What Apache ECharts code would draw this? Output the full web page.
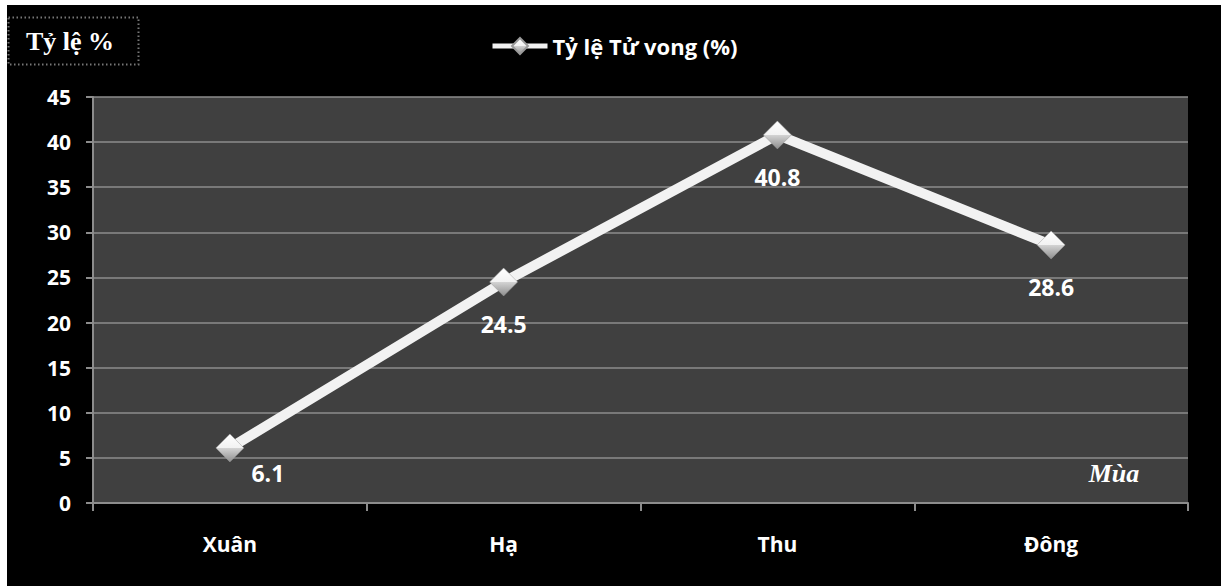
<!DOCTYPE html>
<html>
<head>
<meta charset="utf-8">
<script src="https://cdn.jsdelivr.net/npm/echarts@6/dist/echarts.min.js"></script>
<style>
html,body{margin:0;padding:0;background:#ffffff;}
#chart{width:1221px;height:586px;}
</style>
</head>
<body>
<div id="chart"></div>
<script>
const categories = ['Xuân', 'Hạ', 'Thu', 'Đông'];
const mortality = [6.1, 24.5, 40.8, 28.6];
const seriesName = 'Tỷ lệ Tử vong (%)';
const yAxisTitle = 'Tỷ lệ %';
const xAxisTitle = 'Mùa';
const yMin = 0, yMax = 45, yStep = 5;

const chart = echarts.init(document.getElementById('chart'), null, {renderer: 'svg'});

const labelFont = '"Open Sans", "DejaVu Sans", sans-serif';
const markerFill = new echarts.graphic.LinearGradient(0, 0, 0, 1, [
  {offset: 0, color: '#ffffff'},
  {offset: 0.5, color: '#f2f2f2'},
  {offset: 0.5, color: '#d4d4d4'},
  {offset: 1, color: '#8e8e8e'}
]);

const dataItems = mortality.map(function (v, i) {
  const item = {value: v};
  if (i === 0) {
    item.label = {offset: [38, -17]};
  }
  return item;
});

chart.setOption({
  backgroundColor: '#000000',
  animation: false,
  graphic: [
    {type: 'rect', shape: {x: 0, y: 0, width: 1221, height: 5}, style: {fill: '#ffffff'}, silent: true, z: 100},
    {type: 'rect', shape: {x: 0, y: 0, width: 7, height: 586}, style: {fill: '#ffffff'}, silent: true, z: 100},
    {type: 'rect', shape: {x: 8.5, y: 17.5, width: 130, height: 47},
      style: {fill: 'none', stroke: '#777777', lineWidth: 2, lineDash: [1.5, 2.5]}, silent: true, z: 10},
    {type: 'text', x: 70, y: 41, style: {text: yAxisTitle, fill: '#ffffff',
      font: 'bold 26px "Liberation Serif", "DejaVu Serif", serif', align: 'center', verticalAlign: 'middle'}, z: 11},
    {type: 'text', x: 1114, y: 473, style: {text: xAxisTitle, fill: '#ffffff',
      font: 'italic bold 26px "Liberation Serif", "DejaVu Serif", serif', align: 'center', verticalAlign: 'middle'}, z: 11}
  ],
  legend: {
    data: [seriesName],
    left: 485,
    top: 30,
    itemWidth: 55,
    itemHeight: 20,
    itemGap: 4,
    lineStyle: {width: 5, color: '#f2f2f2'},
    textStyle: {color: '#ffffff', fontFamily: labelFont, fontWeight: 'bold', fontSize: 22}
  },
  grid: {
    left: 93, right: 33, top: 97, bottom: 83,
    show: true, backgroundColor: '#404040', borderWidth: 0
  },
  xAxis: {
    type: 'category',
    data: categories,
    boundaryGap: true,
    axisLine: {show: true, lineStyle: {color: '#8c8c8c', width: 2}},
    axisTick: {show: true, length: 8, lineStyle: {color: '#8c8c8c', width: 2}},
    axisLabel: {color: '#ffffff', fontFamily: labelFont, fontWeight: 'bold', fontSize: 21, margin: 30},
    splitLine: {show: false}
  },
  yAxis: {
    type: 'value',
    min: yMin, max: yMax, interval: yStep,
    axisLine: {show: true, lineStyle: {color: '#8c8c8c', width: 2}},
    axisTick: {show: true, length: 7, lineStyle: {color: '#8c8c8c', width: 2}},
    axisLabel: {color: '#ffffff', fontFamily: labelFont, fontWeight: 'bold', fontSize: 21, margin: 22},
    splitLine: {show: true, lineStyle: {color: '#8c8c8c', width: 1.5}}
  },
  series: [{
    name: seriesName,
    type: 'line',
    data: dataItems,
    symbol: 'diamond',
    symbolSize: [28, 28],
    showAllSymbol: true,
    lineStyle: {color: '#f2f2f2', width: 10},
    itemStyle: {color: markerFill, borderColor: '#9a9a9a', borderWidth: 0.5},
    label: {
      show: true, position: 'bottom', distance: 16,
      color: '#ffffff', fontFamily: labelFont, fontWeight: 'bold', fontSize: 23
    },
    z: 5
  }]
});
</script>
</body>
</html>
